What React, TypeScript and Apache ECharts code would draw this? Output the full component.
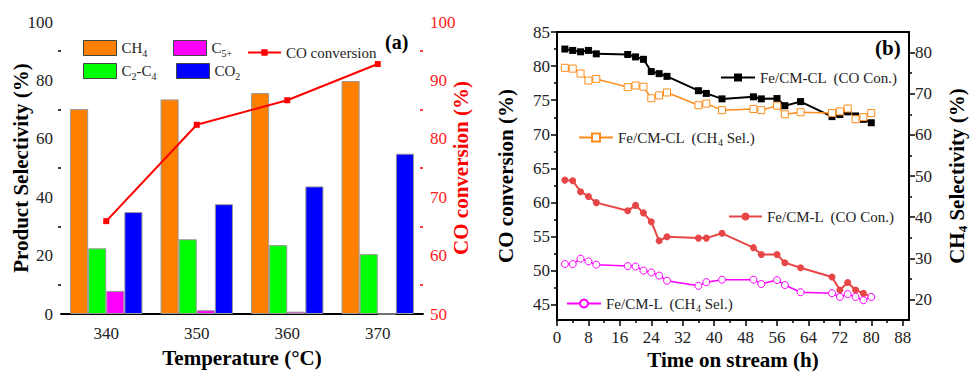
import React, { useEffect, useRef } from 'react';
import * as echarts from 'echarts';

// ---------- Panel (a) data ----------
const temperatures = ['340', '350', '360', '370'];
const ch4Sel = [70.2, 73.5, 75.7, 79.8];
const c2c4Sel = [22.5, 25.6, 23.6, 20.5];
const c5Sel = [7.9, 1.3, 0.8, 0];
const co2Sel = [34.9, 37.6, 43.7, 54.9];
const coConvByTemp = [65.9, 82.4, 86.6, 92.8];

// ---------- Panel (b) data ----------
const timeHours = [2, 4, 6, 8, 10, 18, 20, 22, 24, 26, 28, 36, 38, 42, 50, 52, 56, 58, 62, 70, 72, 74, 76, 78, 80];
const clCOConv = [82.5, 82.3, 82.1, 82.3, 81.8, 81.7, 81.35, 81.0, 79.2, 78.9, 78.5, 76.4, 76.0, 75.2, 75.5, 75.2, 75.25, 74.2, 74.8, 72.6, 72.9, 73.3, 72.7, 72.2, 71.7];
const clCH4Sel = [76.3, 76.1, 74.9, 73.2, 73.6, 71.6, 72.0, 71.7, 68.9, 69.6, 70.3, 67.2, 67.6, 66.0, 66.3, 66.0, 67.1, 65.0, 65.5, 65.3, 65.7, 66.4, 63.8, 64.3, 65.3];
const lCOConv = [63.3, 63.2, 61.6, 60.9, 60.0, 58.8, 59.6, 58.5, 57.2, 54.4, 55.0, 54.8, 54.8, 55.5, 53.4, 52.4, 52.4, 51.2, 50.45, 49.1, 47.2, 48.3, 47.2, 46.7, 46.2];
const lCH4Sel = [28.6, 28.6, 29.9, 29.25, 28.45, 28.1, 28.0, 27.0, 26.55, 25.8, 24.55, 23.3, 24.2, 24.8, 24.8, 23.75, 24.7, 23.5, 21.75, 21.5, 20.6, 21.3, 20.6, 19.8, 20.6];

// ---------- Tick values ----------
const timeTicks = [0, 8, 16, 24, 32, 40, 48, 56, 64, 72, 80, 88];
const timeMinorTicks = [4, 12, 20, 28, 36, 44, 52, 60, 68, 76, 84];
const coTicks = [45, 50, 55, 60, 65, 70, 75, 80, 85];
const coMinorTicks = [47.5, 52.5, 57.5, 62.5, 67.5, 72.5, 77.5, 82.5];
const selTicks = [20, 30, 40, 50, 60, 70, 80];
const selMinorTicks = [25, 35, 45, 55, 65, 75];

const FONT = "'Liberation Serif', 'Times New Roman', serif";
const LABEL_COLOR = '#222';

const legendRichLabels: Record<string, string> = {
  CH4: '{n|CH}{s|4}',
  'C5+': '{n|C}{s|5+}',
  'C2-C4': '{n|C}{s|2}{n|-C}{s|4}',
  CO2: '{n|CO}{s|2}',
  'CO conversion': '{n|CO conversion}',
  'Fe/CM-CL  (CO Con.)': '{n|Fe/CM-CL  (CO Con.)}',
  'Fe/CM-CL  (CH4 Sel.)': '{n|Fe/CM-CL  (CH}{s|4}{n| Sel.)}',
  'Fe/CM-L  (CO Con.)': '{n|Fe/CM-L  (CO Con.)}',
  'Fe/CM-L  (CH4 Sel.)': '{n|Fe/CM-L  (CH}{s|4}{n| Sel.)}',
};

const legendRich = {
  n: { fontFamily: FONT, fontSize: 15, color: LABEL_COLOR, lineHeight: 20 },
  s: { fontFamily: FONT, fontSize: 10, color: LABEL_COLOR, lineHeight: 12, verticalAlign: 'bottom' },
};

function makeLegend(name: string, left: number, top: number, extra: any = {}) {
  return {
    data: [name],
    left,
    top,
    padding: 0,
    selectedMode: false,
    itemWidth: 33,
    itemHeight: 10,
    formatter: (n: string) => legendRichLabels[n] || n,
    textStyle: { fontFamily: FONT, fontSize: 15, color: LABEL_COLOR, rich: legendRich },
    ...extra,
  };
}

const nameStyle = (color = '#000') => ({ fontFamily: FONT, fontSize: 21, fontWeight: 'bold', color });

const baseAxisLine = (color = '#000') => ({ onZero: false, lineStyle: { color, width: 2 } });
const baseLabel = (color = LABEL_COLOR, margin = 8) => ({ fontFamily: FONT, fontSize: 17, color, margin });

export default function App() {
  const ref = useRef<HTMLDivElement>(null);

  useEffect(() => {
    if (!ref.current) return;
    const chart = echarts.init(ref.current, undefined, { renderer: 'svg' });

    const barItem = (color: string) => ({ color, borderColor: '#999', borderWidth: 1 });
    const pairs = (vals: number[]) => timeHours.map((t, i) => [t, vals[i]]);

    const option: any = {
      animation: false,
      backgroundColor: '#fff',
      grid: [
        { left: 61, top: 22, width: 362, height: 292, show: false },
        { left: 557, top: 32, width: 360, height: 292, show: true, borderColor: '#000', borderWidth: 2, backgroundColor: 'transparent' },
      ],
      xAxis: [
        {
          type: 'category', gridIndex: 0, position: 'bottom', data: temperatures,
          axisLine: baseAxisLine(),
          axisTick: { alignWithLabel: true, length: 5, lineStyle: { color: '#000', width: 1.5 } },
          axisLabel: baseLabel(LABEL_COLOR, 11),
          name: 'Temperature (°C)', nameLocation: 'middle', nameGap: 33, nameMoveOverlap: false, nameTextStyle: nameStyle(),
          splitLine: { show: false },
        },
        {
          type: 'category', gridIndex: 0, position: 'bottom', data: temperatures,
          axisLine: { show: false, onZero: false },
          axisTick: { inside: true, length: 3, lineStyle: { color: '#000', width: 1.5 } },
          axisLabel: { show: false },
          splitLine: { show: false },
        },
        {
          type: 'value', gridIndex: 1, position: 'bottom', min: 0, max: 89.6,
          axisLine: baseAxisLine(),
          axisTick: { customValues: timeTicks, length: 6, lineStyle: { color: '#000', width: 1.5 } },
          axisLabel: { ...baseLabel(LABEL_COLOR, 9), customValues: timeTicks },
          name: 'Time on stream (h)', nameLocation: 'middle', nameGap: 29, nameMoveOverlap: false, nameTextStyle: nameStyle(),
          splitLine: { show: false },
        },
        {
          type: 'value', gridIndex: 1, position: 'bottom', min: 0, max: 89.6,
          axisLine: { show: false, onZero: false },
          axisTick: { customValues: timeMinorTicks, length: 3, lineStyle: { color: '#000', width: 1.5 } },
          axisLabel: { show: false },
          splitLine: { show: false },
        },
      ],
      yAxis: [
        {
          type: 'value', gridIndex: 0, position: 'left', min: 0, max: 100, interval: 20,
          axisLine: baseAxisLine(),
          axisTick: { length: 6, lineStyle: { color: '#000', width: 1.5 } },
          minorTick: { show: true, splitNumber: 2, length: 3, lineStyle: { color: '#000', width: 1.5 } },
          axisLabel: baseLabel(LABEL_COLOR, 8),
          name: 'Product Selectivity (%)', nameLocation: 'middle', nameRotate: 90, nameGap: 30, nameMoveOverlap: false, nameTextStyle: nameStyle(),
          splitLine: { show: false }, minorSplitLine: { show: false },
        },
        {
          type: 'value', gridIndex: 0, position: 'right', min: 50, max: 100, interval: 10,
          axisLine: baseAxisLine('#ff0000'),
          axisTick: { inside: true, length: 5, lineStyle: { color: '#ff0000', width: 1.5 } },
          minorTick: { show: true, splitNumber: 2, length: 3, lineStyle: { color: '#ff0000', width: 1.5 } },
          axisLabel: baseLabel('#ff2020', 7),
          name: 'CO conversion (%)', nameLocation: 'middle', nameRotate: 90, nameGap: 27, nameMoveOverlap: false, nameTextStyle: nameStyle('#ff0000'),
          splitLine: { show: false }, minorSplitLine: { show: false },
        },
        {
          type: 'value', gridIndex: 1, position: 'left', min: 42.8, max: 85,
          axisLine: baseAxisLine(),
          axisTick: { customValues: coTicks, length: 6, lineStyle: { color: '#000', width: 1.5 } },
          axisLabel: { ...baseLabel(LABEL_COLOR, 7), customValues: coTicks },
          name: 'CO conversion (%)', nameLocation: 'middle', nameRotate: 90, nameGap: 41, nameMoveOverlap: false, nameTextStyle: nameStyle(),
          splitLine: { show: false },
        },
        {
          type: 'value', gridIndex: 1, position: 'right', min: 15, max: 85,
          axisLine: baseAxisLine(),
          axisTick: { customValues: selTicks, length: 6, lineStyle: { color: '#000', width: 1.5 } },
          axisLabel: { ...baseLabel(LABEL_COLOR, 6), customValues: selTicks },
          name: '{b|CH}{bs|4}{b| Selectivity (%)}', nameLocation: 'middle', nameRotate: 90, nameGap: 36, nameMoveOverlap: false,
          nameTextStyle: {
            ...nameStyle(),
            rich: {
              b: { fontFamily: FONT, fontSize: 21, fontWeight: 'bold', color: '#000', lineHeight: 24 },
              bs: { fontFamily: FONT, fontSize: 13, fontWeight: 'bold', color: '#000', lineHeight: 15, verticalAlign: 'bottom' },
            },
          },
          splitLine: { show: false },
        },
        {
          type: 'value', gridIndex: 1, position: 'left', min: 42.8, max: 85,
          axisLine: { show: false, onZero: false },
          axisTick: { customValues: coMinorTicks, length: 3, lineStyle: { color: '#000', width: 1.5 } },
          axisLabel: { show: false },
          splitLine: { show: false },
        },
        {
          type: 'value', gridIndex: 1, position: 'right', min: 15, max: 85,
          axisLine: { show: false, onZero: false },
          axisTick: { customValues: selMinorTicks, length: 3, lineStyle: { color: '#000', width: 1.5 } },
          axisLabel: { show: false },
          splitLine: { show: false },
        },
      ],
      legend: [
        makeLegend('CH4', 83, 40, { itemHeight: 15, icon: 'rect', itemStyle: { borderColor: '#444', borderWidth: 1 } }),
        makeLegend('C5+', 173, 40, { itemHeight: 15, icon: 'rect', itemStyle: { borderColor: '#444', borderWidth: 1 } }),
        makeLegend('CO conversion', 247, 45, { itemHeight: 8 }),
        makeLegend('C2-C4', 83, 63, { itemHeight: 15, icon: 'rect', itemStyle: { borderColor: '#444', borderWidth: 1 } }),
        makeLegend('CO2', 176, 63, { itemHeight: 15, icon: 'rect', itemStyle: { borderColor: '#444', borderWidth: 1 } }),
        makeLegend('Fe/CM-CL  (CO Con.)', 720, 70, { itemWidth: 34 }),
        makeLegend('Fe/CM-CL  (CH4 Sel.)', 578, 130, { itemWidth: 34 }),
        makeLegend('Fe/CM-L  (CO Con.)', 728, 209, { itemWidth: 33 }),
        makeLegend('Fe/CM-L  (CH4 Sel.)', 566, 296, { itemWidth: 34 }),
      ],
      graphic: [
        { type: 'text', x: 385, y: 42, style: { text: '(a)', fontFamily: FONT, fontSize: 20, fontWeight: 'bold', fill: '#000', verticalAlign: 'middle', align: 'left' } },
        { type: 'text', x: 875, y: 48, style: { text: '(b)', fontFamily: FONT, fontSize: 21, fontWeight: 'bold', fill: '#000', verticalAlign: 'middle', align: 'left' } },
      ],
      series: [
        { name: 'CH4', type: 'bar', xAxisIndex: 0, yAxisIndex: 0, data: ch4Sel, itemStyle: barItem('#ff8000'), barGap: '0%', barCategoryGap: '20%' },
        { name: 'C2-C4', type: 'bar', xAxisIndex: 0, yAxisIndex: 0, data: c2c4Sel, itemStyle: barItem('#00ff00'), barGap: '0%', barCategoryGap: '20%' },
        { name: 'C5+', type: 'bar', xAxisIndex: 0, yAxisIndex: 0, data: c5Sel, itemStyle: barItem('#ff00ff'), barGap: '0%', barCategoryGap: '20%' },
        { name: 'CO2', type: 'bar', xAxisIndex: 0, yAxisIndex: 0, data: co2Sel, itemStyle: barItem('#0000ff'), barGap: '0%', barCategoryGap: '20%' },
        {
          name: 'CO conversion', type: 'line', xAxisIndex: 0, yAxisIndex: 1, data: coConvByTemp,
          symbol: 'rect', symbolSize: 6, itemStyle: { color: '#ff0000' }, lineStyle: { color: '#ff0000', width: 2 }, z: 5,
        },
        {
          name: 'Fe/CM-CL  (CO Con.)', type: 'line', xAxisIndex: 2, yAxisIndex: 2, data: pairs(clCOConv),
          symbol: 'rect', symbolSize: 7, itemStyle: { color: '#000' }, lineStyle: { color: '#000', width: 2 },
        },
        {
          name: 'Fe/CM-CL  (CH4 Sel.)', type: 'line', xAxisIndex: 2, yAxisIndex: 3, data: pairs(clCH4Sel),
          symbol: 'rect', symbolSize: 7, itemStyle: { color: '#fff', borderColor: '#ff8c1a', borderWidth: 1 }, lineStyle: { color: '#ff8c1a', width: 1.5 },
        },
        {
          name: 'Fe/CM-L  (CO Con.)', type: 'line', xAxisIndex: 2, yAxisIndex: 2, data: pairs(lCOConv),
          symbol: 'circle', symbolSize: 7, itemStyle: { color: '#e84646' }, lineStyle: { color: '#e84646', width: 2 },
        },
        {
          name: 'Fe/CM-L  (CH4 Sel.)', type: 'line', xAxisIndex: 2, yAxisIndex: 3, data: pairs(lCH4Sel),
          symbol: 'circle', symbolSize: 7, itemStyle: { color: '#fff', borderColor: '#ff00ff', borderWidth: 1 }, lineStyle: { color: '#ff00ff', width: 1.5 },
        },
      ],
    };

    chart.setOption(option);
    return () => chart.dispose();
  }, []);

  return <div ref={ref} style={{ position: 'fixed', left: 0, top: 0, width: 970, height: 375, background: '#fff' }} />;
}
